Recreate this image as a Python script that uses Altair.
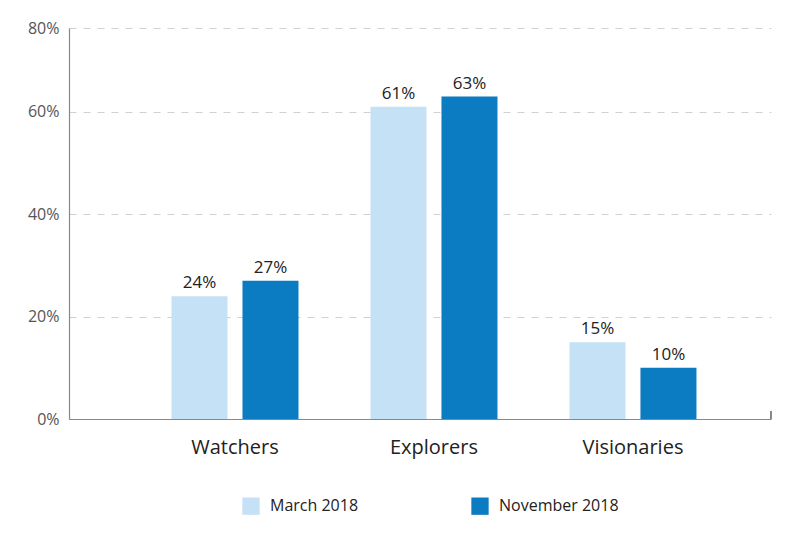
import altair as alt
import pandas as pd

categories = ["Watchers", "Explorers", "Visionaries"]
series = ["March 2018", "November 2018"]
march = [24, 61, 15]
november = [27, 63, 10]
colors = ["#c5e1f5", "#0b7bc2"]
y_ticks = [0, 20, 40, 60, 76.4]

rows = []
for i, c in enumerate(categories):
    rows.append({"category": c, "series": series[0], "value": march[i]})
    rows.append({"category": c, "series": series[1], "value": november[i]})
df = pd.DataFrame(rows)

FONT = "Open Sans"

x = alt.X("category:N", sort=categories, title=None,
          scale=alt.Scale(paddingInner=0, paddingOuter=0.264, align=0.633),
          axis=alt.Axis(labelAngle=0, labelFontSize=20, labelColor="#222", labelFont=FONT,
                        ticks=False, domainColor="#888", domainWidth=1.2, labelPadding=18))
xoff = alt.XOffset("series:N", sort=series,
                   scale=alt.Scale(paddingInner=0.211, paddingOuter=0.507))
y = alt.Y("value:Q", title=None,
          scale=alt.Scale(domain=[0, 76.4], nice=False),
          axis=alt.Axis(values=y_ticks, labelExpr="datum.value > 70 ? '80%' : datum.value + '%'",
                        labelFontSize=16, labelColor="#555", labelFont=FONT, ticks=False,
                        labelPadding=10, domainColor="#888", domainWidth=1.2,
                        grid=True, gridColor="#d0d0d0", gridDash=[7, 7], gridWidth=1))

bars = alt.Chart(df).mark_bar().encode(
    x=x, xOffset=xoff, y=y,
    color=alt.Color("series:N", sort=series, title=None,
                    scale=alt.Scale(domain=series, range=colors),
                    legend=alt.Legend(orient="none", legendX=173, legendY=469, direction="horizontal",
                                      symbolType="square", symbolSize=300, symbolStrokeWidth=0,
                                      labelFontSize=16, labelColor="#222", labelFont=FONT,
                                      columnPadding=112, labelOffset=10, padding=0)),
)

labels = alt.Chart(df).mark_text(baseline="bottom", dy=-4, fontSize=17, color="#222", font=FONT).encode(
    x=alt.X("category:N", sort=categories), xOffset=alt.XOffset("series:N", sort=series),
    y="value:Q",
    text=alt.Text("label:N"),
).transform_calculate(label="datum.value + '%'")

end_tick = alt.Chart(df).mark_rule(color="#888", strokeWidth=1.2).encode(
    x=alt.value(702), y=alt.value(383), y2=alt.value(391))

chart = alt.layer(bars, labels, end_tick).properties(
    width=702, height=391,
    background="white",
    autosize=alt.AutoSizeParams(type="none"),
    padding={"left": 61, "top": 20, "right": 20, "bottom": 110},
).configure_view(stroke=None)

chart.save("out.html", embed_options={"renderer": "svg", "actions": False})
